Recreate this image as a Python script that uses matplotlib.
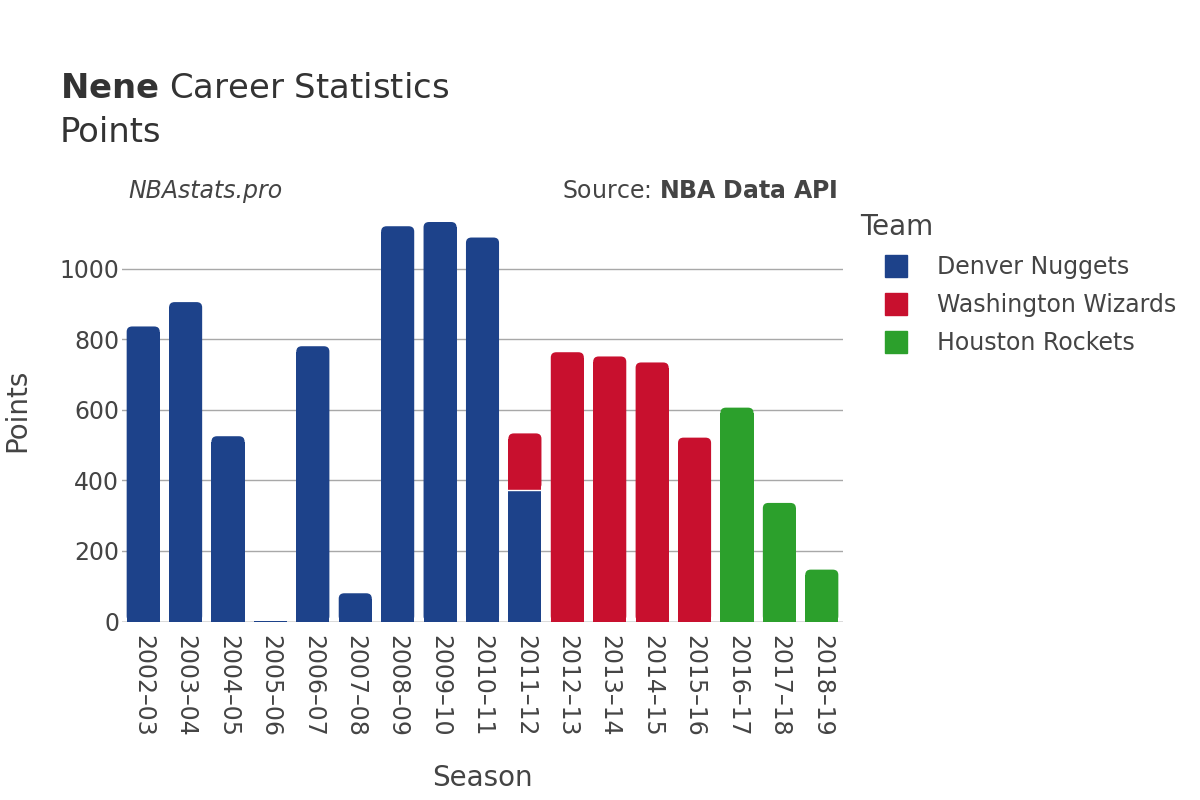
import matplotlib
matplotlib.use("Agg")
import matplotlib.pyplot as plt
from matplotlib.patches import FancyBboxPatch, Rectangle
from matplotlib.lines import Line2D

seasons = ["2002–03", "2003–04", "2004–05", "2005–06", "2006–07", "2007–08",
           "2008–09", "2009–10", "2010–11", "2011–12", "2012–13", "2013–14",
           "2014–15", "2015–16", "2016–17", "2017–18", "2018–19"]
teams = ["Denver Nuggets", "Washington Wizards", "Houston Rockets"]
team_colors = ["#1d428a", "#c8102e", "#2ca02c"]
denver = [836, 905, 525, 2, 780, 80, 1120, 1132, 1088, 374, 0, 0, 0, 0, 0, 0, 0]
washington = [0, 0, 0, 0, 0, 0, 0, 0, 0, 159, 763, 751, 734, 521, 0, 0, 0]
houston = [0, 0, 0, 0, 0, 0, 0, 0, 0, 0, 0, 0, 0, 0, 606, 336, 147]
series = [denver, washington, houston]
yticks = [0, 200, 400, 600, 800, 1000]

TXT = "#444444"

fig = plt.figure(figsize=(12, 8), dpi=100)
ax = fig.add_axes([122 / 1200, 1 - 621.5 / 800, 721 / 1200, 411.5 / 800])

x = list(range(len(seasons)))
bottom = [0] * len(seasons)
top_idx = [max((k for k in range(3) if series[k][i] > 0), default=-1) for i in x]
rad_x = 0.13
rad_y = 15
for k, (vals, col) in enumerate(zip(series, team_colors)):
    bars = ax.bar(x, vals, width=0.78, bottom=bottom, color=col, linewidth=0)
    for i, rect in enumerate(bars):
        if vals[i] <= 0:
            rect.set_visible(False)
            continue
        if top_idx[i] == k and vals[i] > rad_y:
            # rounded top corners, square bottom
            rect.set_visible(False)
            x0, y0 = rect.get_x(), rect.get_y()
            w, h = rect.get_width(), rect.get_height()
            ax.add_patch(FancyBboxPatch((x0, y0), w, h,
                                        boxstyle=f"round,pad=0,rounding_size={rad_x}",
                                        mutation_aspect=rad_y / rad_x,
                                        facecolor=col, edgecolor="none"))
            ax.add_patch(Rectangle((x0, y0), w, h - rad_y, facecolor=col, edgecolor="none"))
    bottom = [b + v for b, v in zip(bottom, vals)]

# white separator on the stacked bar
for i in x:
    if denver[i] > 0 and washington[i] > 0:
        ax.plot([i - 0.39, i + 0.39], [denver[i], denver[i]], color="white", lw=1, zorder=3)

ax.set_xlim(-0.5, len(seasons) - 0.5)
ax.set_ylim(0, 1166)
ax.set_yticks(yticks)
ax.set_yticklabels([str(v) for v in yticks], fontsize=17, color=TXT)
ax.set_xticks(x)
ax.set_xticklabels(seasons, rotation=-90, fontsize=17, color=TXT)
ax.tick_params(length=0, pad=2)
ax.tick_params(axis="x", pad=10)
ax.grid(axis="y", color="#a8a8a8", linewidth=1)
ax.set_axisbelow(True)
for s in ax.spines.values():
    s.set_visible(False)
ax.axhline(0, color="#e6e6e6", lw=2, zorder=0)

fig.text(482 / 1200, 1 - 778 / 800, "Season", ha="center", va="center", fontsize=20, color=TXT)
fig.text(17 / 1200, 1 - 410 / 800, "Points", ha="center", va="center", rotation=90,
         fontsize=20, color=TXT)

fig.text(60 / 1200, 1 - 88 / 800, r"$\bf{Nene}$ Career Statistics", ha="left", va="center",
         fontsize=24.4, color="#333333")
fig.text(60 / 1200, 1 - 132 / 800, "Points", ha="left", va="center", fontsize=24.4, color="#333333")
fig.text(128 / 1200, 1 - 191 / 800, "NBAstats.pro", ha="left", va="center", fontsize=17,
         style="italic", color=TXT)
fig.text(838 / 1200, 1 - 191 / 800, r"Source: $\bf{NBA\ Data\ API}$", ha="right", va="center",
         fontsize=17, color=TXT)

fig.text(860 / 1200, 1 - 227 / 800, "Team", ha="left", va="center", fontsize=20, color=TXT)
handles = [Line2D([], [], marker="s", linestyle="none", markersize=16.5, markerfacecolor=c,
                  markeredgecolor=c) for c in team_colors]
leg = fig.legend(handles, teams, loc="upper left",
                 bbox_to_anchor=(884 / 1200, 1 - 255 / 800), frameon=False,
                 fontsize=17, labelspacing=0.6, handlelength=1.0, handletextpad=1.25,
                 borderaxespad=0, borderpad=0)
for t in leg.get_texts():
    t.set_color(TXT)

fig.savefig("out.png", dpi=100)
